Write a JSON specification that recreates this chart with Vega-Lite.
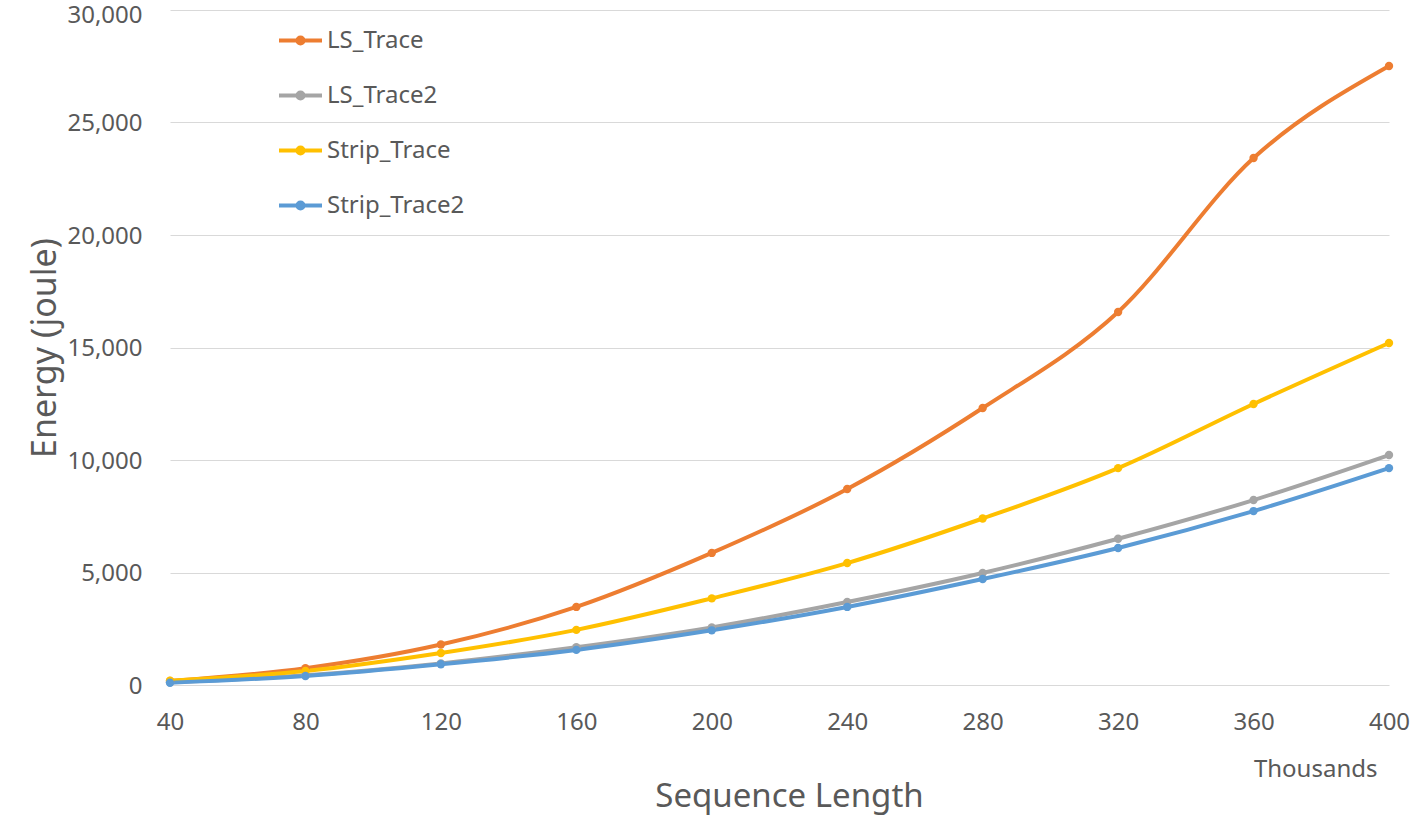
{
  "$schema": "https://vega.github.io/schema/vega-lite/v6.json",
  "autosize": {"type": "none"},
  "width": 1219,
  "height": 675,
  "padding": {"left": 170, "top": 10, "right": 26, "bottom": 131},
  "background": "white",
  "config": {"font": "Noto Sans", "view": {"stroke": null}},
  "title": {"text": "Sequence Length", "orient": "bottom", "anchor": "middle", "fontSize": 33, "fontWeight": "normal", "color": "#595959", "font": "Noto Sans", "offset": 0, "dx": 10},
  "data": {"values": [
    {"len": 40, "series": "LS_Trace", "energy": 180},
    {"len": 80, "series": "LS_Trace", "energy": 750},
    {"len": 120, "series": "LS_Trace", "energy": 1800},
    {"len": 160, "series": "LS_Trace", "energy": 3470},
    {"len": 200, "series": "LS_Trace", "energy": 5870},
    {"len": 240, "series": "LS_Trace", "energy": 8710},
    {"len": 280, "series": "LS_Trace", "energy": 12310},
    {"len": 320, "series": "LS_Trace", "energy": 16580},
    {"len": 360, "series": "LS_Trace", "energy": 23420},
    {"len": 400, "series": "LS_Trace", "energy": 27510},
    {"len": 40, "series": "LS_Trace2", "energy": 120},
    {"len": 80, "series": "LS_Trace2", "energy": 430},
    {"len": 120, "series": "LS_Trace2", "energy": 960},
    {"len": 160, "series": "LS_Trace2", "energy": 1680},
    {"len": 200, "series": "LS_Trace2", "energy": 2560},
    {"len": 240, "series": "LS_Trace2", "energy": 3690},
    {"len": 280, "series": "LS_Trace2", "energy": 4980},
    {"len": 320, "series": "LS_Trace2", "energy": 6500},
    {"len": 360, "series": "LS_Trace2", "energy": 8220},
    {"len": 400, "series": "LS_Trace2", "energy": 10220},
    {"len": 40, "series": "Strip_Trace", "energy": 190},
    {"len": 80, "series": "Strip_Trace", "energy": 620},
    {"len": 120, "series": "Strip_Trace", "energy": 1420},
    {"len": 160, "series": "Strip_Trace", "energy": 2450},
    {"len": 200, "series": "Strip_Trace", "energy": 3850},
    {"len": 240, "series": "Strip_Trace", "energy": 5420},
    {"len": 280, "series": "Strip_Trace", "energy": 7400},
    {"len": 320, "series": "Strip_Trace", "energy": 9640},
    {"len": 360, "series": "Strip_Trace", "energy": 12490},
    {"len": 400, "series": "Strip_Trace", "energy": 15200},
    {"len": 40, "series": "Strip_Trace2", "energy": 100},
    {"len": 80, "series": "Strip_Trace2", "energy": 400},
    {"len": 120, "series": "Strip_Trace2", "energy": 920},
    {"len": 160, "series": "Strip_Trace2", "energy": 1560},
    {"len": 200, "series": "Strip_Trace2", "energy": 2430},
    {"len": 240, "series": "Strip_Trace2", "energy": 3470},
    {"len": 280, "series": "Strip_Trace2", "energy": 4710},
    {"len": 320, "series": "Strip_Trace2", "energy": 6090},
    {"len": 360, "series": "Strip_Trace2", "energy": 7730},
    {"len": 400, "series": "Strip_Trace2", "energy": 9640}
  ]},
  "mark": {"type": "line", "interpolate": "monotone", "strokeWidth": 4, "point": {"filled": true, "size": 70}},
  "encoding": {
    "x": {"field": "len", "type": "quantitative",
      "scale": {"domain": [40, 400], "nice": false, "zero": false},
      "axis": {"values": [40, 80, 120, 160, 200, 240, 280, 320, 360, 400], "grid": false, "ticks": false, "domain": false,
        "labelFontSize": 24, "labelColor": "#595959", "labelPadding": 25, "labelFont": "Noto Sans", "labelFlush": false,
        "title": "Thousands", "titleFontSize": 24, "titleFontWeight": "normal", "titleColor": "#595959", "titleFont": "Noto Sans",
        "titleAnchor": "end", "titleAlign": "right", "titleX": 1207, "titleY": 91, "titleBaseline": "alphabetic"}},
    "y": {"field": "energy", "type": "quantitative",
      "scale": {"domain": [0, 30000], "nice": false},
      "axis": {"values": [0, 5000, 10000, 15000, 20000, 25000, 30000], "format": ",d", "grid": true, "gridColor": "#d9d9d9", "gridWidth": 1.2,
        "ticks": false, "domain": false, "labelFontSize": 24, "labelColor": "#595959", "labelPadding": 28, "labelFont": "Noto Sans",
        "labelOffset": {"condition": {"test": "datum.value == 30000", "value": 5}, "value": 1},
        "title": "Energy (joule)", "titleFontSize": 34, "titleFontWeight": "normal", "titleColor": "#595959", "titleFont": "Noto Sans", "titlePadding": 4}},
    "color": {"field": "series", "type": "nominal",
      "scale": {"domain": ["LS_Trace", "LS_Trace2", "Strip_Trace", "Strip_Trace2"], "range": ["#ED7D31", "#A5A5A5", "#FFC000", "#5B9BD5"]},
      "legend": {"title": null, "orient": "none", "legendX": 107, "legendY": 7, "padding": 0,
        "symbolType": "M-1,0H1M-0.14,0A0.14,0.14 0 1,1 0.14,0A0.14,0.14 0 1,1 -0.14,0Z",
        "symbolSize": 1849, "symbolStrokeWidth": 4, "labelFontSize": 24, "labelColor": "#595959", "labelFont": "Noto Sans",
        "labelOffset": 3, "rowPadding": 19,
        "encode": {"symbols": {"update": {"fill": {"scale": "color", "field": "value"}, "opacity": {"value": 1}}}}}}
  }
}
